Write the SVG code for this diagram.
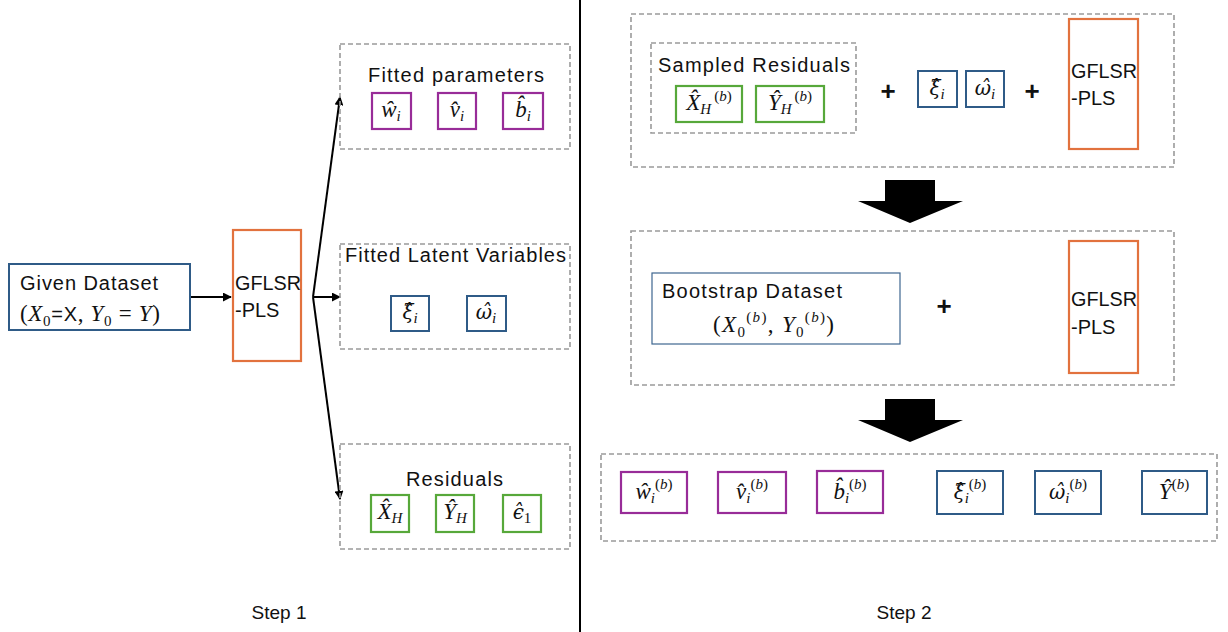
<svg xmlns="http://www.w3.org/2000/svg" width="1228" height="632" viewBox="0 0 1228 632">
<style>
.bg{fill:#fff}
.dash{fill:none;stroke:#9a9a9a;stroke-width:1.6;stroke-dasharray:5 3}
.blue{fill:#fff;stroke:#2f5b87;stroke-width:2}
.blue1{fill:#fff;stroke:#3e6690;stroke-width:1.2}
.orange{fill:none;stroke:#e2723e;stroke-width:2.2}
.purple{fill:#fff;stroke:#982c98;stroke-width:2.2}
.green{fill:#fff;stroke:#57a83a;stroke-width:2.2}
.lbl{font-family:"Liberation Sans",Arial,sans-serif;font-size:20px;fill:#111}
.step{font-family:"Liberation Sans",Arial,sans-serif;font-size:19px;fill:#111}
.m{font-family:"Liberation Serif","DejaVu Serif",serif;font-size:23px;fill:#111}
.it{font-style:italic}
.g{font-family:"DejaVu Serif",serif;font-style:italic;font-size:20px}
.sm{font-size:15px}
.plus{font-family:"Liberation Sans",Arial,sans-serif;font-size:26px;font-weight:bold;fill:#111}
.conn{fill:none;stroke:#000;stroke-width:2}
.block{fill:#000}
</style>
<defs>
<marker id="ah" viewBox="0 0 10 10" refX="9" refY="5" markerWidth="4.5" markerHeight="4.5" orient="auto" markerUnits="strokeWidth">
<path d="M0,0 L10,5 L0,10 z" fill="#000"/>
</marker>
</defs>
<rect class="bg" x="0" y="0" width="1228" height="632"/>

<!-- divider -->
<line x1="580" y1="0" x2="580" y2="632" stroke="#000" stroke-width="2"/>
<text class="step" x="279" y="619" text-anchor="middle">Step 1</text>
<text class="step" x="904" y="619" text-anchor="middle">Step 2</text>

<!-- connectors -->
<g id="connectors">
<line class="conn" x1="190" y1="297" x2="231" y2="297" marker-end="url(#ah)"/>
<line class="conn" x1="313" y1="297" x2="340" y2="97" marker-end="url(#ah)"/>
<line class="conn" x1="313" y1="297" x2="340" y2="297" marker-end="url(#ah)"/>
<line class="conn" x1="313" y1="297" x2="340" y2="499" marker-end="url(#ah)"/>
<polygon class="block" points="885,180 935,180 935,201 963,201 910,223 858,201 885,201"/>
<polygon class="block" points="885,399 935,399 935,420 963,420 910,442 858,420 885,420"/>
</g>

<!-- Step 1 -->
<g id="given-dataset">
<rect class="blue" x="9" y="264" width="181" height="66"/>
<text class="lbl" x="20" y="290" textLength="138" lengthAdjust="spacing">Given Dataset</text>
<text class="m" x="20" y="321" textLength="140" lengthAdjust="spacing">(<tspan class="it">X</tspan><tspan class="sm" dy="5">0</tspan><tspan dy="-5" style="font-family:'Liberation Sans',sans-serif;font-size:20px">=X</tspan>, <tspan class="it">Y</tspan><tspan class="sm" dy="5">0</tspan><tspan dy="-5"> = </tspan><tspan class="it">Y</tspan>)</text>
</g>

<g id="gflsr-pls-1">
<rect class="orange" x="233" y="230" width="68" height="131"/>
<text class="lbl" x="235" y="290" textLength="66" lengthAdjust="spacingAndGlyphs">GFLSR</text>
<text class="lbl" x="235" y="317">-PLS</text>
</g>

<g id="fitted-parameters">
<rect class="dash" x="340" y="44" width="230" height="105"/>
<text class="lbl" x="368" y="82" textLength="176" lengthAdjust="spacing">Fitted parameters</text>
<rect class="purple" x="372" y="93" width="39" height="36"/>
<text class="m" x="391" y="117" text-anchor="middle"><tspan class="it">w&#x302;</tspan><tspan class="sm it" dy="4">i</tspan></text>
<rect class="purple" x="438" y="93" width="38" height="36"/>
<text class="m" x="457" y="117" text-anchor="middle"><tspan class="it">v&#x302;</tspan><tspan class="sm it" dy="4">i</tspan></text>
<rect class="purple" x="503" y="93" width="40" height="36"/>
<text class="m" x="523" y="117" text-anchor="middle"><tspan class="it">b&#x302;</tspan><tspan class="sm it" dy="4">i</tspan></text>
</g>

<g id="fitted-latent">
<rect class="dash" x="340" y="244" width="230" height="105"/>
<text class="lbl" x="345" y="262" textLength="221" lengthAdjust="spacing">Fitted Latent Variables</text>
<rect class="blue" x="391" y="296" width="38" height="35"/>
<text class="m" x="410" y="319" text-anchor="middle"><tspan class="g">ξ&#x302;</tspan><tspan class="sm it" dy="4">i</tspan></text>
<rect class="blue" x="467" y="296" width="39" height="35"/>
<text class="m" x="486" y="319" text-anchor="middle"><tspan class="g">ω&#x302;</tspan><tspan class="sm it" dy="4">i</tspan></text>
</g>

<g id="residuals">
<rect class="dash" x="340" y="444" width="230" height="105"/>
<text class="lbl" x="406" y="486" textLength="97" lengthAdjust="spacing">Residuals</text>
<rect class="green" x="371" y="495" width="38" height="37"/>
<text class="m" x="390" y="519" text-anchor="middle"><tspan class="it">X&#x302;</tspan><tspan class="sm it" dy="4">H</tspan></text>
<rect class="green" x="436" y="495" width="38" height="37"/>
<text class="m" x="455" y="519" text-anchor="middle"><tspan class="it">Y&#x302;</tspan><tspan class="sm it" dy="4">H</tspan></text>
<rect class="green" x="503" y="495" width="38" height="37"/>
<text class="m" x="522" y="519" text-anchor="middle"><tspan class="g">ϵ&#x302;</tspan><tspan class="sm" dy="4">1</tspan></text>
</g>

<!-- Step 2 top -->
<g id="step2-top">
<rect class="dash" x="631" y="14" width="543" height="153"/>
</g>
<g id="sampled-residuals">
<rect class="dash" x="651" y="43" width="205" height="90"/>
<text class="lbl" x="658" y="72" textLength="192" lengthAdjust="spacing">Sampled Residuals</text>
<rect class="green" x="676" y="86" width="66" height="36"/>
<text class="m" x="709" y="110" text-anchor="middle"><tspan class="it">X&#x302;</tspan><tspan class="sm it" dy="4">H</tspan><tspan class="sm" dy="-13" dx="3">(</tspan><tspan class="sm it">b</tspan><tspan class="sm">)</tspan></text>
<rect class="green" x="756" y="86" width="68" height="36"/>
<text class="m" x="790" y="110" text-anchor="middle"><tspan class="it">Y&#x302;</tspan><tspan class="sm it" dy="4">H</tspan><tspan class="sm" dy="-13" dx="3">(</tspan><tspan class="sm it">b</tspan><tspan class="sm">)</tspan></text>
</g>
<text class="plus" x="888" y="100" text-anchor="middle">+</text>
<g id="latent-top">
<rect class="blue" x="918" y="71" width="39" height="36"/>
<text class="m" x="937" y="95" text-anchor="middle"><tspan class="g">ξ&#x302;</tspan><tspan class="sm it" dy="4">i</tspan></text>
<rect class="blue" x="966" y="71" width="38" height="36"/>
<text class="m" x="985" y="95" text-anchor="middle"><tspan class="g">ω&#x302;</tspan><tspan class="sm it" dy="4">i</tspan></text>
</g>
<text class="plus" x="1032" y="100" text-anchor="middle">+</text>
<g id="gflsr-pls-2">
<rect class="orange" x="1069" y="19" width="69" height="130"/>
<text class="lbl" x="1071" y="78" textLength="66" lengthAdjust="spacingAndGlyphs">GFLSR</text>
<text class="lbl" x="1071" y="105">-PLS</text>
</g>

<!-- Step 2 middle -->
<g id="step2-middle">
<rect class="dash" x="631" y="231" width="543" height="154"/>
</g>
<g id="bootstrap-dataset">
<rect class="blue1" x="652" y="273" width="248" height="71"/>
<text class="lbl" x="662" y="298" textLength="180" lengthAdjust="spacing">Bootstrap Dataset</text>
<text class="m" x="713" y="332" textLength="121" lengthAdjust="spacing">(<tspan class="it">X</tspan><tspan class="sm" dy="5">0</tspan><tspan class="sm" dy="-15">(</tspan><tspan class="sm it">b</tspan><tspan class="sm">)</tspan><tspan dy="10">, </tspan><tspan class="it">Y</tspan><tspan class="sm" dy="5">0</tspan><tspan class="sm" dy="-15">(</tspan><tspan class="sm it">b</tspan><tspan class="sm">)</tspan><tspan dy="10">)</tspan></text>
</g>
<text class="plus" x="944" y="315" text-anchor="middle">+</text>
<g id="gflsr-pls-3">
<rect class="orange" x="1069" y="241" width="69" height="132"/>
<text class="lbl" x="1071" y="306" textLength="66" lengthAdjust="spacingAndGlyphs">GFLSR</text>
<text class="lbl" x="1071" y="334">-PLS</text>
</g>

<!-- Step 2 bottom -->
<g id="step2-bottom">
<rect class="dash" x="601" y="454" width="616" height="87"/>
</g>
<g id="bootstrap-parameters">
<rect class="purple" x="621" y="472" width="66" height="41"/>
<text class="m" x="654" y="499" text-anchor="middle"><tspan class="it">w&#x302;</tspan><tspan class="sm it" dy="4">i</tspan><tspan class="sm" dy="-14">(</tspan><tspan class="sm it">b</tspan><tspan class="sm">)</tspan></text>
<rect class="purple" x="718" y="472" width="68" height="41"/>
<text class="m" x="752" y="499" text-anchor="middle"><tspan class="it">v&#x302;</tspan><tspan class="sm it" dy="4">i</tspan><tspan class="sm" dy="-14">(</tspan><tspan class="sm it">b</tspan><tspan class="sm">)</tspan></text>
<rect class="purple" x="817" y="471" width="66" height="42"/>
<text class="m" x="850" y="499" text-anchor="middle"><tspan class="it">b&#x302;</tspan><tspan class="sm it" dy="4">i</tspan><tspan class="sm" dy="-14">(</tspan><tspan class="sm it">b</tspan><tspan class="sm">)</tspan></text>
</g>
<g id="bootstrap-latent">
<rect class="blue" x="937" y="471" width="66" height="43"/>
<text class="m" x="970" y="499" text-anchor="middle"><tspan class="g">ξ&#x302;</tspan><tspan class="sm it" dy="4">i</tspan><tspan class="sm" dy="-14">(</tspan><tspan class="sm it">b</tspan><tspan class="sm">)</tspan></text>
<rect class="blue" x="1035" y="471" width="66" height="43"/>
<text class="m" x="1068" y="499" text-anchor="middle"><tspan class="g">ω&#x302;</tspan><tspan class="sm it" dy="4">i</tspan><tspan class="sm" dy="-14">(</tspan><tspan class="sm it">b</tspan><tspan class="sm">)</tspan></text>
<rect class="blue" x="1142" y="471" width="65" height="43"/>
<text class="m" x="1174" y="499" text-anchor="middle"><tspan class="it">Y&#x302;</tspan><tspan class="sm" dy="-10">(</tspan><tspan class="sm it">b</tspan><tspan class="sm">)</tspan></text>
</g>
</svg>
